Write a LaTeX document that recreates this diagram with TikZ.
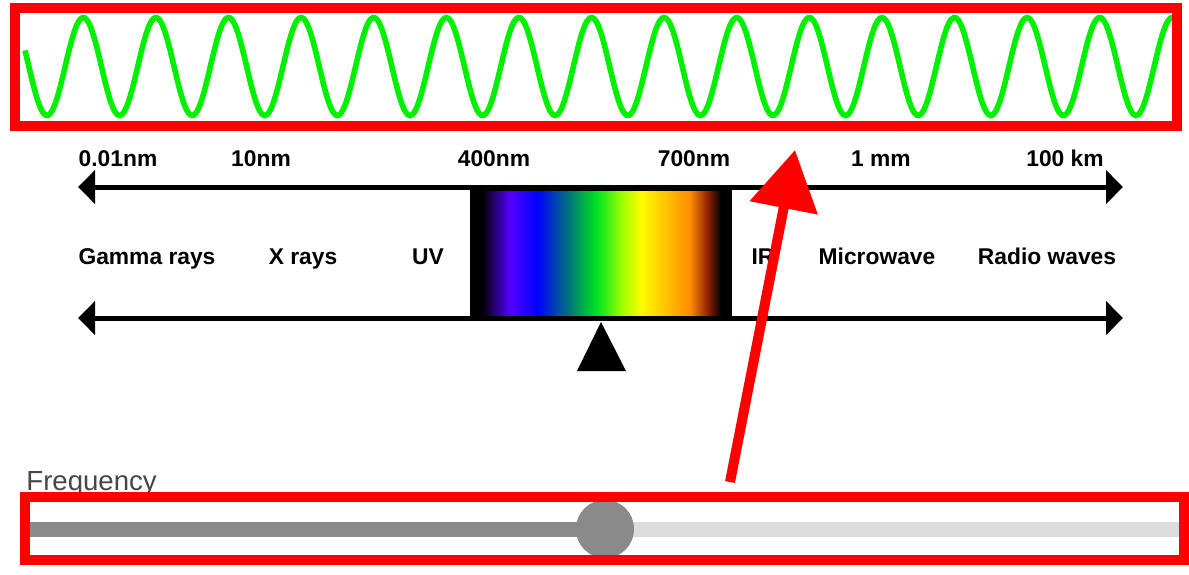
\documentclass[tikz,border=0pt]{standalone}
\usepackage{fontspec}
\setmainfont{Liberation Sans}
\usetikzlibrary{arrows.meta}

\definecolor{wavegreen}{RGB}{0,240,0}
\definecolor{specviolet}{RGB}{85,0,255}
\definecolor{specblue}{RGB}{0,0,255}
\definecolor{specteal}{RGB}{0,110,130}
\definecolor{specgreen}{RGB}{0,230,30}
\definecolor{speclime}{RGB}{170,255,0}
\definecolor{specyellow}{RGB}{255,250,0}
\definecolor{specorange}{RGB}{255,140,0}
\definecolor{specbrown}{RGB}{150,35,0}
\definecolor{trackdark}{RGB}{138,138,138}
\definecolor{tracklight}{RGB}{220,220,220}
\definecolor{labelgray}{RGB}{70,70,70}

\pgfdeclarehorizontalshading{visiblelight}{100bp}{color(0bp)=(black); color(25bp)=(black);
  color(30.8bp)=(specviolet); color(36.5bp)=(specblue); color(42.7bp)=(specteal);
  color(49bp)=(specgreen); color(54.5bp)=(speclime); color(58.3bp)=(specyellow);
  color(68.3bp)=(specorange); color(71.9bp)=(specbrown); color(74.8bp)=(black);
  color(100bp)=(black)}

\tikzset{
  bandlabel/.style={font=\fontsize{11.4}{13}\selectfont\bfseries, anchor=base, inner sep=0pt},
  axisline/.style={line width=2.5pt,
    {Triangle[length=8.5pt,width=16.5pt]}-{Triangle[length=8.5pt,width=16.5pt]}},
  redframe/.style={draw=red, line width=5pt},
}

\begin{document}
\begin{tikzpicture}[x=0.5pt, y=-0.5pt]
  \useasboundingbox (0,0) rectangle (1189,574);

  % wave panel
  \draw[wavegreen, line width=2.8pt, domain=25:1175, samples=500, smooth]
    plot (\x, {66.5-49*cos(4.95868*(\x-83.3))});
  \draw[redframe] (15,8) rectangle (1177,126);

  % visible band
  \fill[black] (470,186) rectangle (732,318);
  \shade[shading=visiblelight] (482,191) rectangle (722,315);

  % axes
  \coordinate (topleft) at (78,187);
  \coordinate (topright) at (1123,187);
  \coordinate (botleft) at (78,318);
  \coordinate (botright) at (1123,318);
  \draw[axisline] (topleft) -- (topright);
  \draw[axisline] (botleft) -- (botright);

  % wavelengths
  \node[bandlabel] (w1) at (118,166) {0.01nm};
  \node[bandlabel] (w2) at (261,166) {10nm};
  \node[bandlabel] (w3) at (494,166) {400nm};
  \node[bandlabel] (w4) at (694,166) {700nm};
  \node[bandlabel] (w5) at (881,166) {1 mm};
  \node[bandlabel] (w6) at (1065,166) {100 km};

  % bands
  \node[bandlabel] (gamma) at (147,264) {Gamma rays};
  \node[bandlabel] (xray) at (303,264) {X rays};
  \node[bandlabel] (uv) at (428,264) {UV};
  \node[bandlabel] (ir) at (763,264) {IR};
  \node[bandlabel] (micro) at (877,264) {Microwave};
  \node[bandlabel] (radio) at (1047,264) {Radio waves};

  % pointer
  \fill[black] (601,322) -- (577,371) -- (626,371) -- cycle;

  % slider
  \node[font=\fontsize{13.8}{16}\selectfont, text=labelgray, anchor=base west, inner sep=0pt]
    (freq) at (26,490) {Frequency};
  \node[circle, fill=trackdark, minimum size=29pt, inner sep=0pt] (thumb) at (605,529) {};
  \draw[line width=7.5pt, tracklight] (thumb.center) -- (1179,529);
  \draw[line width=7.5pt, trackdark] (30,529) -- (thumb.center);
  \node[circle, fill=trackdark, minimum size=29pt, inner sep=0pt] at (thumb) {};
  \draw[redframe] (25,497) rectangle (1184,560);

  % red arrow
  \coordinate (arrowfoot) at (730,482);
  \coordinate (arrowtip) at (795,150);
  \draw[red, line width=5pt, -{Triangle[length=29.5pt,width=33.5pt]}] (arrowfoot) -- (arrowtip);
\end{tikzpicture}
\end{document}
